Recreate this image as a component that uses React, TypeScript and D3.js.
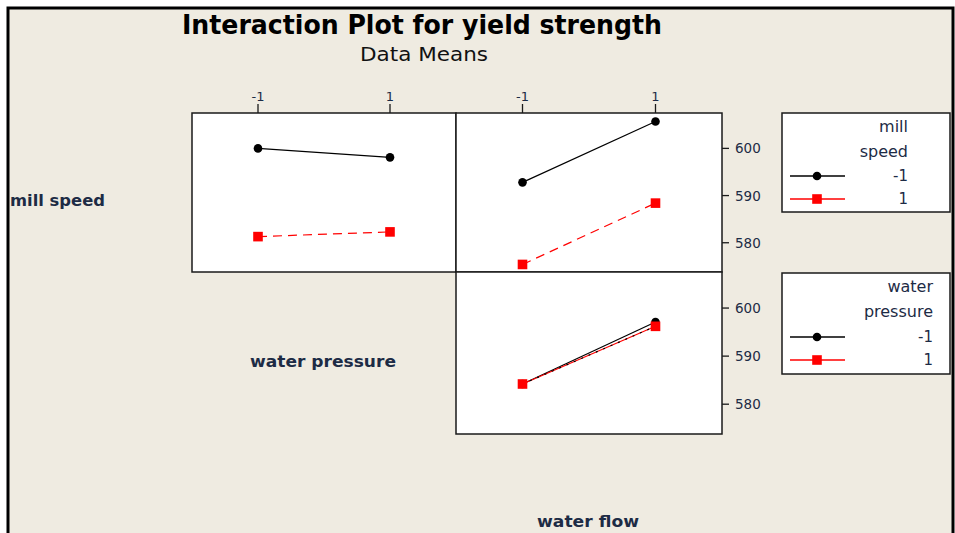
import React from "react";
import * as d3 from "d3";

const levels = [-1, 1];
const factors = ["mill speed", "water pressure", "water flow"];
const yTicks = [580, 590, 600];
// means: [trace level][x level]
const millByPressure = [[600.0, 598.1], [581.3, 582.3]];
const millByFlow = [[592.8, 605.7], [575.4, 588.4]];
const pressureByFlow = [[584.2, 597.1], [584.2, 596.2]];
const legendTitles = [["mill", "speed"], ["water", "pressure"]];

const W = 955, H = 533;
const colX = [[192, 456], [456, 722]];
const rowY = [[113, 272], [272, 434]];
const seriesColor = ["#000000", "#ff0000"];
const txt = "#1d2b45";

export default function App() {
  const xs = colX.map(([a, b]) => d3.scaleLinear().domain([-2, 2]).range([a, b]));
  const ys = rowY.map(([a, b]) => d3.scaleLinear().domain([573.8, 607.5]).range([b, a]));
  const panels = [
    { r: 0, c: 0, data: millByPressure },
    { r: 0, c: 1, data: millByFlow },
    { r: 1, c: 1, data: pressureByFlow },
  ];
  const line = (r: number, c: number) =>
    d3.line<number>().x((_, i) => xs[c](levels[i])).y((v) => ys[r](v));

  const marker = (s: number, x: number, y: number, key: string) =>
    s === 0 ? (
      <circle key={key} cx={x} cy={y} r={4.3} fill="#000" />
    ) : (
      <rect key={key} x={x - 4.8} y={y - 4.8} width={9.6} height={9.6} fill="#ff0000" />
    );

  const factorPos = [
    { x: 10, y: 206, len: 95 },
    { x: 250, y: 367, len: 146 },
    { x: 537, y: 527, len: 102 },
  ];

  return (
    <div style={{ position: "fixed", left: 0, top: 0 }}>
      <svg width={W} height={H} style={{ display: "block" }} fontFamily="'DejaVu Sans', sans-serif">
        <rect x={0} y={0} width={W} height={H} fill="#ffffff" />
        <rect x={8} y={8} width={945} height={H} fill="#efebe1" stroke="#000" strokeWidth={3} />
        <text x={422} y={34} textAnchor="middle" fontSize={26} fontWeight="bold" textLength={480} lengthAdjust="spacingAndGlyphs" fill="#000">
          Interaction Plot for yield strength
        </text>
        <text x={424} y={61} textAnchor="middle" fontSize={19} textLength={128} lengthAdjust="spacingAndGlyphs" fill="#111">
          Data Means
        </text>

        {panels.map((p) => (
          <rect key={`bg${p.r}${p.c}`} x={colX[p.c][0]} y={rowY[p.r][0]} width={colX[p.c][1] - colX[p.c][0]} height={rowY[p.r][1] - rowY[p.r][0]} fill="#fff" stroke="#1a1a1a" strokeWidth={1.5} />
        ))}

        {[0, 1].map((c) =>
          levels.map((l) => (
            <g key={`tx${c}${l}`}>
              <line x1={xs[c](l)} x2={xs[c](l)} y1={104} y2={113} stroke="#1a1a1a" strokeWidth={1.3} />
              <text x={xs[c](l)} y={101} textAnchor="middle" fontSize={13} fill={txt}>{l}</text>
            </g>
          ))
        )}

        {[0, 1].map((r) =>
          yTicks.map((t) => (
            <g key={`ty${r}${t}`}>
              <line x1={722} x2={729} y1={ys[r](t)} y2={ys[r](t)} stroke="#1a1a1a" strokeWidth={1.3} />
              <text x={735} y={ys[r](t) + 5} fontSize={13.5} fill={txt}>{t}</text>
            </g>
          ))
        )}

        {panels.map((p) =>
          p.data.map((vals, s) => (
            <g key={`s${p.r}${p.c}${s}`}>
              <path d={line(p.r, p.c)(vals) || ""} fill="none" stroke={seriesColor[s]} strokeWidth={1.2} strokeDasharray={s === 1 && p.r === 0 ? "9,6" : undefined} />
              {s === 1 && p.r === 1 && (
                <path d={line(p.r, p.c)(vals) || ""} fill="none" stroke="#000" strokeWidth={1.2} strokeDasharray="2,6" />
              )}
            </g>
          ))
        )}
        {panels.map((p) =>
          p.data.map((vals, s) =>
            vals.map((v, i) => marker(s, xs[p.c](levels[i]), ys[p.r](v), `m${p.r}${p.c}${s}${i}`))
          )
        )}

        {factors.map((f, i) => (
          <text key={f} x={factorPos[i].x} y={factorPos[i].y} fontSize={16} fontWeight="bold" textLength={factorPos[i].len} lengthAdjust="spacingAndGlyphs" fill={txt}>{f}</text>
        ))}

        {legendTitles.map((tl, k) => {
          const top = k === 0 ? 113 : 273;
          const right = k === 0 ? 908 : 933;
          return (
            <g key={`lg${k}`}>
              <rect x={782} y={top} width={168} height={k === 0 ? 99 : 101} fill="#fff" stroke="#1a1a1a" strokeWidth={1.5} />
              <text x={right} y={top + 19} textAnchor="end" fontSize={16} fill={txt}>{tl[0]}</text>
              <text x={right} y={top + 44} textAnchor="end" fontSize={16} fill={txt}>{tl[1]}</text>
              {levels.map((l, s) => {
                const yy = top + (k === 0 ? 63 : 64) + s * 23;
                return (
                  <g key={`li${s}`}>
                    <line x1={790} x2={845} y1={yy} y2={yy} stroke={seriesColor[s]} strokeWidth={1.3} />
                    {marker(s, 817, yy, `lm${k}${s}`)}
                    <text x={right} y={yy + 5} textAnchor="end" fontSize={15} fill={txt}>{l}</text>
                  </g>
                );
              })}
            </g>
          );
        })}
      </svg>
    </div>
  );
}
